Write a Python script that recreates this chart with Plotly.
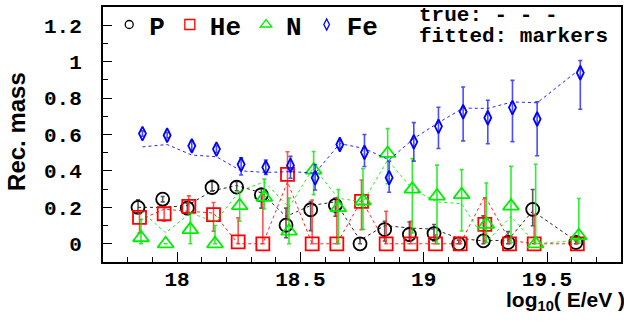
import plotly.graph_objects as go

# Energy bin centres, log10(E/eV)
log_e = [17.85, 17.95, 18.05, 18.15, 18.25, 18.35, 18.45, 18.55, 18.65, 18.75,
         18.85, 18.95, 19.05, 19.15, 19.25, 19.35, 19.45, 19.625]

# Proton
p_fit = [0.200, 0.245, 0.196, 0.309, 0.311, 0.269, 0.102, 0.187, 0.211, 0.000,
         0.078, 0.051, 0.056, 0.000, 0.016, 0.007, 0.189, 0.007]
p_up = [0.042, 0.015, 0.025, 0.040, 0.030, 0.036, 0.094, 0.045, 0.040, 0.033,
        0.046, 0.069, 0.050, 0.020, 0.137, 0.060, 0.109, 0.010]
p_dn = [0.030, 0.015, 0.035, 0.020, 0.020, 0.073, 0.069, 0.115, 0.060, 0.000,
        0.063, 0.036, 0.040, 0.000, 0.016, 0.007, 0.090, 0.007]
p_true = [0.200, 0.200, 0.210, 0.290, 0.320, 0.280, 0.150, 0.210, 0.230, 0.020,
          0.100, 0.087, 0.080, 0.030, 0.016, 0.020, 0.180, 0.016]

# Helium
he_fit = [0.145, 0.165, 0.205, 0.160, 0.011, 0.000, 0.381, 0.000, 0.000, 0.233,
          0.000, 0.000, 0.000, 0.000, 0.107, 0.000, 0.000, 0.000]
he_up = [0.020, 0.035, 0.058, 0.067, 0.131, 0.270, 0.124, 0.240, 0.250, 0.117,
         0.178, 0.124, 0.050, 0.030, 0.145, 0.030, 0.162, 0.010]
he_dn = [0.085, 0.041, 0.035, 0.091, 0.011, 0.000, 0.250, 0.000, 0.000, 0.155,
         0.000, 0.000, 0.000, 0.000, 0.100, 0.000, 0.000, 0.000]
he_true = [0.130, 0.190, 0.178, 0.169, 0.000, 0.000, 0.340, 0.000, 0.000, 0.240,
           0.000, 0.000, 0.000, 0.000, 0.262, 0.020, 0.000, 0.000]

# Nitrogen
n_fit = [0.033, 0.000, 0.078, 0.000, 0.209, 0.255, 0.069, 0.405, 0.198, 0.235,
         0.496, 0.300, 0.262, 0.270, 0.107, 0.207, 0.000, 0.044]
n_up = [0.100, 0.000, 0.090, 0.100, 0.078, 0.100, 0.182, 0.102, 0.100, 0.178,
        0.136, 0.168, 0.170, 0.137, 0.227, 0.218, 0.437, 0.205]
n_dn = [0.033, 0.000, 0.078, 0.000, 0.085, 0.064, 0.069, 0.135, 0.198, 0.155,
        0.166, 0.240, 0.262, 0.200, 0.100, 0.200, 0.000, 0.040]
n_true = [0.180, 0.060, 0.170, 0.120, 0.290, 0.340, 0.200, 0.420, 0.250, 0.230,
          0.460, 0.300, 0.230, 0.220, 0.010, 0.150, 0.000, 0.020]

# Iron
fe_fit = [0.605, 0.596, 0.538, 0.520, 0.436, 0.420, 0.430, 0.362, 0.545, 0.502,
          0.363, 0.560, 0.645, 0.725, 0.692, 0.748, 0.685, 0.939]
fe_up = [0.015, 0.015, 0.025, 0.020, 0.036, 0.040, 0.050, 0.073, 0.020, 0.098,
         0.091, 0.105, 0.105, 0.136, 0.096, 0.149, 0.094, 0.067]
fe_dn = [0.015, 0.015, 0.025, 0.020, 0.058, 0.040, 0.070, 0.067, 0.020, 0.078,
         0.080, 0.106, 0.122, 0.160, 0.143, 0.187, 0.202, 0.200]
fe_true = [0.532, 0.545, 0.487, 0.478, 0.400, 0.392, 0.396, 0.388, 0.550, 0.523,
           0.460, 0.578, 0.665, 0.745, 0.743, 0.779, 0.774, 0.961]

species = [
    # name, fitted, up, down, true, colour, error colour, symbol, size, legend size, x shift
    ("P", p_fit, p_up, p_dn, p_true, "#000000", "rgba(60,60,60,0.85)",
     "circle-open", 13, 8, -0.008),
    ("He", he_fit, he_up, he_dn, he_true, "#ff0000", "rgba(255,40,40,0.8)",
     "square-open", 13, 10, -0.002),
    ("N", n_fit, n_up, n_dn, n_true, "#00ee00", "rgba(0,230,0,0.8)",
     "triangle-up-open", 14, 10, 0.004),
    ("Fe", fe_fit, fe_up, fe_dn, fe_true, "#0000ff", "rgba(30,30,255,0.8)",
     "diamond-tall-open", 10, 8, 0.010),
]

fig = go.Figure()

for name, fit, up, dn, true, col, ecol, sym, size, lsize, dx in species:
    xs = [v + dx for v in log_e]
    # true composition: dashed line
    fig.add_trace(go.Scatter(
        x=xs, y=true, mode="lines", showlegend=False, hoverinfo="skip",
        line=dict(color=col, width=1, dash="3px,3px"), opacity=0.85))
    # fitted composition: markers with asymmetric errors
    fig.add_trace(go.Scatter(
        x=xs, y=fit, mode="markers", showlegend=False, name=name,
        marker=dict(symbol=sym, size=size, color=col, line=dict(width=1.8, color=col)),
        error_y=dict(type="data", symmetric=False, array=up, arrayminus=dn,
                     color=ecol, thickness=1.6, width=2)))

for name, fit, up, dn, true, col, ecol, sym, size, lsize, dx in species:
    # legend entries
    fig.add_trace(go.Scatter(
        x=[None], y=[None], mode="markers", name=name,
        marker=dict(symbol=sym, size=lsize, color=col, line=dict(width=1.3, color=col))))

mono = dict(family="Liberation Mono", color="black", weight="bold")

fig.update_layout(
    width=624, height=329,
    margin=dict(l=103, r=1, t=2, b=67),
    paper_bgcolor="white", plot_bgcolor="white",
    showlegend=True,
    legend=dict(orientation="h", x=0.012, y=0.931, xanchor="left", yanchor="middle",
                bgcolor="rgba(0,0,0,0)", font=dict(size=26, **mono),
                itemwidth=30, tracegroupgap=0),
    xaxis=dict(range=[17.7, 19.8], showgrid=False, zeroline=False,
               showline=True, linecolor="black", linewidth=2, mirror=True,
               ticks="inside", ticklen=10, tickwidth=1, tickcolor="black",
               tickvals=[18, 18.5, 19, 19.5], ticktext=["18", "18.5", "19", "19.5"],
               minor=dict(ticks="inside", ticklen=5, dtick=0.1, tick0=17.7,
                          tickcolor="black", tickwidth=1, showgrid=False),
               tickfont=dict(size=21, **mono), ticklabelstandoff=-3),
    yaxis=dict(range=[-0.1, 1.3], showgrid=False, zeroline=False,
               showline=True, linecolor="black", linewidth=2, mirror=True,
               ticks="inside", ticklen=9, tickwidth=1, tickcolor="black",
               tickvals=[0, 0.2, 0.4, 0.6, 0.8, 1, 1.2],
               ticktext=["0", "0.2", "0.4", "0.6", "0.8", "1", "1.2"],
               minor=dict(ticks="inside", ticklen=5, dtick=0.1, tick0=0,
                          tickcolor="black", tickwidth=1, showgrid=False),
               tickfont=dict(size=21, **mono), ticklabelstandoff=15),
)

sans = dict(family="Liberation Sans", color="black", weight="bold")
fig.add_annotation(text="Rec. mass", xref="paper", yref="paper",
                   x=-0.167, y=0.512, xanchor="center", yanchor="middle",
                   textangle=-90, showarrow=False, font=dict(size=24, **sans))
fig.add_annotation(text="log<sub>10</sub>( E/eV )", xref="paper", yref="paper",
                   x=1.012, y=-0.095, xanchor="right", yanchor="top",
                   showarrow=False, font=dict(size=21, **sans))
fig.add_annotation(text="true: - - -", xref="paper", yref="paper",
                   x=0.606, y=0.9654, xanchor="left", yanchor="middle",
                   showarrow=False, font=dict(size=21, **mono))
fig.add_annotation(text="fitted: markers", xref="paper", yref="paper",
                   x=0.606, y=0.8846, xanchor="left", yanchor="middle",
                   showarrow=False, font=dict(size=21, **mono))

fig.write_html("out.html")
